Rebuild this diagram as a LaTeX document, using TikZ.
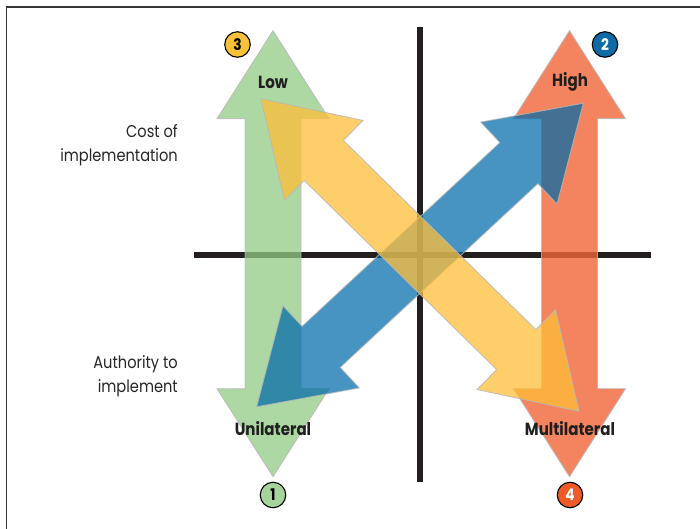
\documentclass[tikz,border=0pt]{standalone}
\usepackage{fontspec}
\setmainfont{Poppins}[FakeStretch=0.86]
\definecolor{axisc}{RGB}{35,31,32}
\definecolor{greenA}{RGB}{146,202,132}
\definecolor{redA}{RGB}{241,101,55}
\definecolor{blueA}{RGB}{0,105,169}
\definecolor{yellowA}{RGB}{254,190,56}
\definecolor{c3}{RGB}{248,193,58}
\definecolor{c2}{RGB}{15,107,166}
\definecolor{c1}{RGB}{166,212,154}
\definecolor{c4}{RGB}{238,90,40}
\definecolor{framec}{RGB}{55,55,55}
\tikzset{
  dblarrow/.pic={
    \path[pic actions] (-223,0) -- (-135,56) -- (-135,28) -- (135,28) -- (135,56)
      -- (223,0) -- (135,-56) -- (135,-28) -- (-135,-28) -- (-135,-56) -- cycle;
  },
  arr/.style={draw=black!28, line width=0.9pt, line join=miter},
  axisline/.style={draw=axisc, line width=6pt},
  pole/.style={font=\fontsize{17.5}{20}\selectfont\bfseries, text=black!88},
  sidelabel/.style={font=\fontsize{17}{23.5}\selectfont, align=right, anchor=east, inner sep=0pt, text=black!85},
  numcirc/.style={circle, draw=black, line width=1.1pt, minimum size=25.5pt, inner sep=0pt,
    font=\fontsize{16}{16}\selectfont\bfseries}
}
\begin{document}
\begin{tikzpicture}[x=1pt,y=-1pt]
\useasboundingbox (0,0) rectangle (700,529);
% frame
\draw[framec, line width=2pt] (6.5,7.5) -- (700,7.5);
\draw[framec, line width=1.3pt] (6.5,6.5) -- (6.5,529);
% axes
\coordinate (vt) at (420,27);
\coordinate (vb) at (420,482);
\coordinate (hl) at (194,255);
\coordinate (hr) at (651,255);
\draw[axisline] (vt) -- (vb);
\draw[axisline] (hl) -- (hr);
% arrows
\path (273,253.7) pic[arr, fill=greenA, fill opacity=0.75, draw opacity=0.8, rotate=90] {dblarrow};
\path (569.5,253.7) pic[arr, fill=redA, fill opacity=0.8, draw opacity=0.8, rotate=90] {dblarrow};
\path (420,255) pic[arr, fill=blueA, fill opacity=0.72, draw opacity=0.8, rotate=42.9] {dblarrow};
\path (420,255) pic[arr, fill=yellowA, fill opacity=0.75, draw opacity=0.8, rotate=135.5] {dblarrow};
% pole labels
\node[pole] (low) at (273,82) {Low};
\node[pole] (high) at (570,82) {High};
\node[pole] (uni) at (273,429) {Unilateral};
\node[pole] (multi) at (570,429) {Multilateral};
% side labels
\node[sidelabel] (cost) at (178,145) {Cost of\\implementation};
\node[sidelabel] (auth) at (178,376) {Authority to\\implement};
% numbered circles
\node[numcirc, fill=c3, text=black] (n3) at (237.5,44.5) {3};
\node[numcirc, fill=c2, text=white] (n2) at (605,44.5) {2};
\node[numcirc, fill=c1, text=black] (n1) at (273,495) {1};
\node[numcirc, fill=c4, text=white] (n4) at (570,495) {4};
\end{tikzpicture}
\end{document}
